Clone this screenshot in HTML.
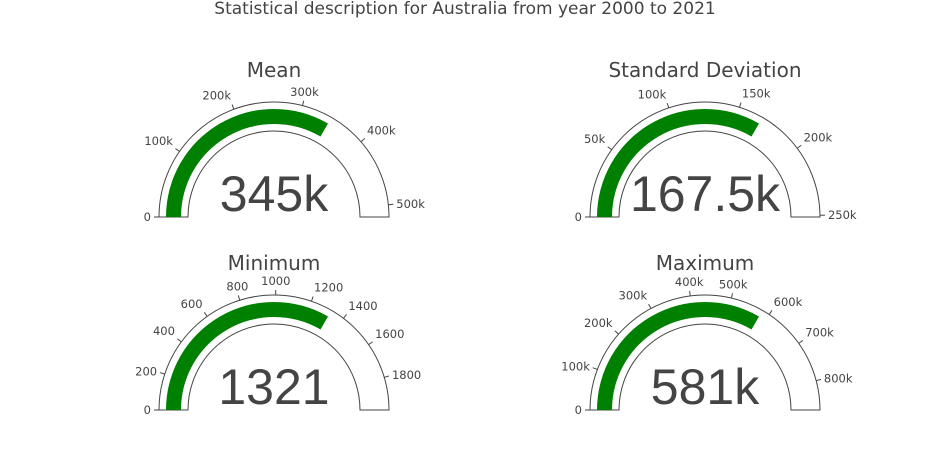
<!DOCTYPE html>
<html><head><meta charset="utf-8"><style>
body{margin:0;background:#fff;}
svg{display:block;font-family:"DejaVu Sans","Liberation Sans",sans-serif;}
</style></head><body>
<svg id="chart" width="930" height="450">
<rect width="930" height="450" fill="#fff"/>
<text x="465" y="14" text-anchor="middle" font-size="17" fill="#444">Statistical description for Australia from year 2000 to 2021</text>
</svg>
<script>
const gaugeTitles = ["Mean", "Standard Deviation", "Minimum", "Maximum"];
const gaugeValues = [345000, 167500, 1321, 581000];
const gaugeLabels = ["345k", "167.5k", "1321", "581k"];
const gaugeMax = [517500, 251250, 1981.5, 871500];
const tickValues = [
  [0,100000,200000,300000,400000,500000],
  [0,50000,100000,150000,200000,250000],
  [0,200,400,600,800,1000,1200,1400,1600,1800],
  [0,100000,200000,300000,400000,500000,600000,700000,800000]
];
const tickLabels = [
  ["0","100k","200k","300k","400k","500k"],
  ["0","50k","100k","150k","200k","250k"],
  ["0","200","400","600","800","1000","1200","1400","1600","1800"],
  ["0","100k","200k","300k","400k","500k","600k","700k","800k"]
];
const svg = document.getElementById('chart');
const NS = 'http://www.w3.org/2000/svg';
const centers = [[274,217],[705,217],[274,410],[705,410]];
const R = 115, r = 86, bo = 108, bi = 93;
function mk(tag, attrs){const e=document.createElementNS(NS,tag);for(const k in attrs)e.setAttribute(k,attrs[k]);svg.appendChild(e);return e;}
function ang(v,max){return Math.PI*(1-v/max);}
function pt(cx,cy,rad,a){return [cx+rad*Math.cos(a), cy-rad*Math.sin(a)];}
function arcPath(cx,cy,ro,ri,a0,a1){
  const p1=pt(cx,cy,ro,a0),p2=pt(cx,cy,ro,a1),p3=pt(cx,cy,ri,a1),p4=pt(cx,cy,ri,a0);
  return `M${p1[0]},${p1[1]} A${ro},${ro} 0 0 1 ${p2[0]},${p2[1]} L${p3[0]},${p3[1]} A${ri},${ri} 0 0 0 ${p4[0]},${p4[1]} Z`;
}
for(let i=0;i<4;i++){
  const [cx,cy]=centers[i], max=gaugeMax[i];
  const bg=mk('path',{d:arcPath(cx,cy,R,r,Math.PI,0),fill:'#fff',stroke:'#444','stroke-width':1});
  
  
  const bar=mk('path',{d:arcPath(cx,cy,bo,bi,Math.PI,ang(gaugeValues[i],max)),fill:'#008000'});
  
  
  tickValues[i].forEach((v,j)=>{
    const a=ang(v,max);
    const p1=pt(cx,cy,R,a),p2=pt(cx,cy,R+5,a),pl=pt(cx,cy,R+8,a);
    const t=mk('line',{x1:p1[0],y1:p1[1],x2:p2[0],y2:p2[1],stroke:'#444','stroke-width':1});
    
    
    const c=Math.cos(a);
    const anchor=c>0.3?'start':(c<-0.3?'end':'middle');
    const dy=Math.sin(a)>0.5?-2:4;
    const lb=mk('text',{x:pl[0],y:pl[1]+dy,'text-anchor':anchor,'font-size':11.5,fill:'#444'});
    lb.textContent=tickLabels[i][j];
    
    
  });
  const tt=mk('text',{x:cx,y:cy-140,'text-anchor':'middle','font-size':20,fill:'#444'});
  tt.textContent=gaugeTitles[i];
  
  
  const nv=mk('text',{x:cx,y:cy-6,'text-anchor':'middle','font-size':50,fill:'#444','font-family':'Liberation Sans, sans-serif'});
  nv.textContent=gaugeLabels[i];
  
  
}
</script>
</body></html>
